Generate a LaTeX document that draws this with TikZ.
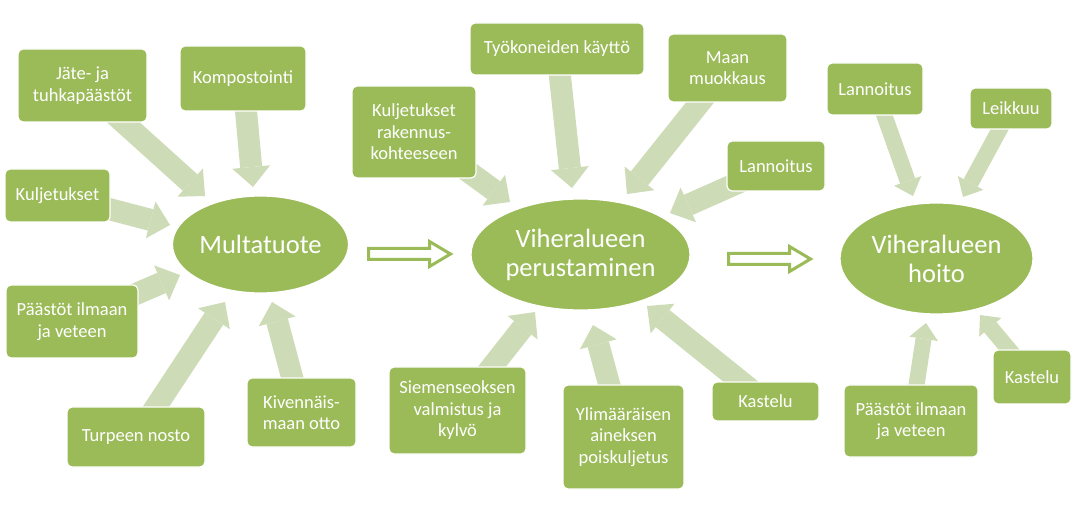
\documentclass[tikz,border=0pt]{standalone}
\usepackage{fontspec}
\setmainfont{Carlito}
\usetikzlibrary{arrows.meta,backgrounds,shapes.geometric}
\definecolor{boxgreen}{RGB}{155,187,89}
\definecolor{lightgreen}{RGB}{205,219,182}
\tikzset{
  box/.style={rectangle, rounded corners=5pt, fill=boxgreen, draw=white, line width=1.2pt,
    text=white, align=center, inner sep=0pt, font=\fontsize{18.5}{21.5}\selectfont},
  hub/.style={ellipse, fill=boxgreen, draw=white, line width=1.2pt, text=white, align=center,
    inner sep=0pt, font=\fontsize{26.5}{29}\selectfont},
  fat/.style={draw=lightgreen, line width=22pt,
    -{Triangle[width=38pt,length=20pt,line width=0pt]}},
  fatsmall/.style={draw=lightgreen, line width=16pt,
    -{Triangle[width=29pt,length=16pt,line width=0pt]}},
  hollow/.style={draw=boxgreen, fill=white, line width=3pt, line join=miter}
}
\begin{document}
\begin{tikzpicture}[x=1pt,y=-1pt]
\useasboundingbox (0,0) rectangle (1079,510);
% hubs
\node[hub, minimum width=176pt, minimum height=97pt] (multa) at (260.5,244.5) {Multatuote};
\node[hub, minimum width=219pt, minimum height=111pt] (perus) at (580.5,254.5) {Viheralueen\\perustaminen};
\node[hub, minimum width=193pt, minimum height=111pt] (hoito) at (936.5,258.5) {Viheralueen\\hoito};
% boxes
\node[box, minimum width=129pt, minimum height=73pt] (jate) at (82.5,85.5) {Jäte- ja\\tuhkapäästöt};
\node[box, minimum width=126pt, minimum height=65pt] (komp) at (243,78.5) {Kompostointi};
\node[box, minimum width=105pt, minimum height=53pt] (kulj) at (57.5,195.5) {Kuljetukset};
\node[box, minimum width=132pt, minimum height=73pt] (paastA) at (72,321.5) {Päästöt ilmaan\\ja veteen};
\node[box, minimum width=138pt, minimum height=60pt] (turp) at (136,437) {Turpeen nosto};
\node[box, minimum width=109pt, minimum height=69pt] (kiv) at (301.5,412.5) {Kivennäis-\\maan otto};
\node[box, minimum width=124pt, minimum height=92pt] (kuljrak) at (414,132) {Kuljetukset\\rakennus-\\kohteeseen};
\node[box, minimum width=174pt, minimum height=52pt] (tyok) at (557,49) {Työkoneiden käyttö};
\node[box, minimum width=119pt, minimum height=68pt] (maan) at (727.5,68) {Maan\\muokkaus};
\node[box, minimum width=98pt, minimum height=50pt] (lannA) at (776,166) {Lannoitus};
\node[box, minimum width=137pt, minimum height=87pt] (siem) at (457.5,410.5) {Siemenseoksen\\valmistus ja\\kylvö};
\node[box, minimum width=121pt, minimum height=104pt] (ylim) at (623.5,437) {Ylimääräisen\\aineksen\\poiskuljetus};
\node[box, minimum width=107pt, minimum height=39pt] (kastA) at (765.5,401.5) {Kastelu};
\node[box, minimum width=96pt, minimum height=52pt] (lannB) at (875,89) {Lannoitus};
\node[box, minimum width=82pt, minimum height=41pt] (leik) at (1011,108.5) {Leikkuu};
\node[box, minimum width=134pt, minimum height=72pt] (paastB) at (911,421) {Päästöt ilmaan\\ja veteen};
\node[box, minimum width=78pt, minimum height=54pt] (kastB) at (1032,377) {Kastelu};
% arrow tips
\coordinate (tjate) at (205,196);
\coordinate (tkomp) at (253,187);
\coordinate (tkulj) at (170,225);
\coordinate (tpaastA) at (180,275);
\coordinate (tturp) at (225,302);
\coordinate (tkiv) at (272,302);
\coordinate (tkuljrak) at (510,202);
\coordinate (ttyok) at (572,188);
\coordinate (tmaan) at (627,194);
\coordinate (tlannA) at (670,213);
\coordinate (tsiem) at (535,312);
\coordinate (tylim) at (593,325);
\coordinate (tkastA) at (647,306);
\coordinate (tlannB) at (913,196);
\coordinate (tleik) at (963,197);
\coordinate (tpaastB) at (926,323);
\coordinate (tkastB) at (980,315);
\begin{scope}[on background layer]
\foreach \n in {jate,komp,kulj,paastA,turp,kiv,kuljrak,tyok,maan,lannA,siem,ylim,kastA}
  \draw[fat] (\n.center) -- (t\n);
\foreach \n in {lannB,leik,paastB,kastB}
  \draw[fatsmall] (\n.center) -- (t\n);
\end{scope}
% hollow arrows between hubs
\coordinate (hA) at (368.5,254);
\coordinate (hB) at (728.5,259);
\foreach \h in {hA,hB}
  \draw[hollow] (\h) ++(0,-5.5) -- ++(61,0) -- ++(0,-7) -- ++(21,12.5) -- ++(-21,12.5) -- ++(0,-7) -- ++(-61,0) -- cycle;
\end{tikzpicture}
\end{document}
